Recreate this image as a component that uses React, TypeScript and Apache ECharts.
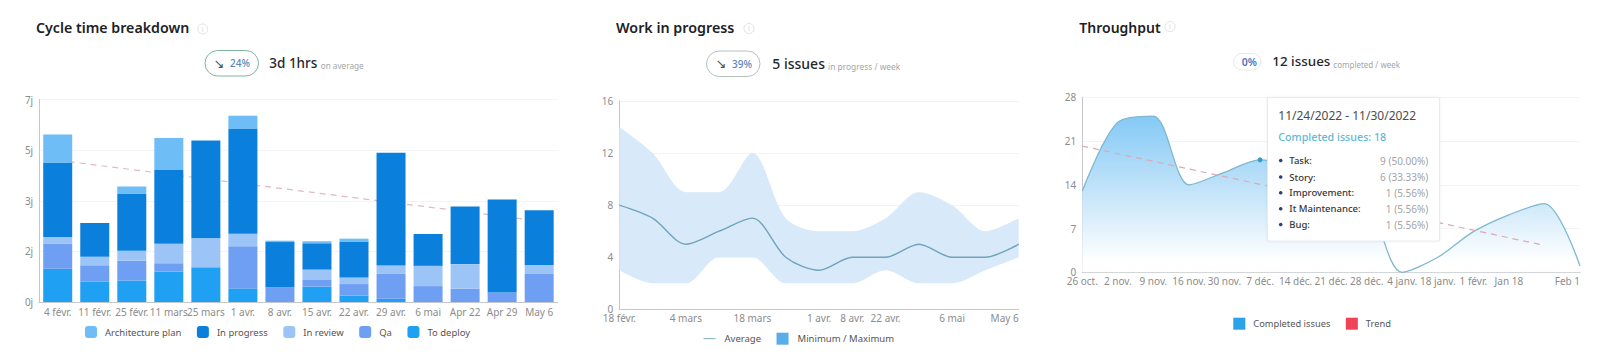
import React, { useEffect, useRef } from "react";
import * as echarts from "echarts";

const FONT = '"Noto Sans", sans-serif';

const cycleCategories = ["4 févr.", "11 févr.", "25 févr.", "11 mars", "25 mars", "1 avr.", "8 avr.", "15 avr.", "22 avr.", "29 avr.", "6 mai", "Apr 22", "Apr 29", "May 6"];
const cycleTicks = ["0j", "2j", "3j", "5j", "7j"];
const toDeploy = [1.15, 0.7, 0.74, 1.05, 1.2, 0.47, 0, 0.53, 0.22, 0.11, 0, 0, 0, 0];
const qa = [0.87, 0.57, 0.69, 0.29, 0, 1.46, 0.51, 0.23, 0.4, 0.86, 0.55, 0.46, 0.33, 0.97];
const inReview = [0.23, 0.29, 0.34, 0.67, 1, 0.43, 0, 0.36, 0.23, 0.29, 0.7, 0.85, 0, 0.31];
const inProgress = [2.57, 1.17, 1.98, 2.55, 3.38, 3.62, 1.56, 0.91, 1.24, 3.9, 1.1, 1.99, 3.21, 1.89];
const architecturePlan = [0.97, 0, 0.24, 1.11, 0, 0.46, 0.05, 0.07, 0.1, 0, 0, 0, 0, 0];
const cycleTrend = [4.9, null, null, null, null, null, null, null, null, null, null, null, null, 2.8];

const wipCategories = ["18 févr.", "", "4 mars", "", "18 mars", "", "1 avr.", "8 avr.", "22 avr.", "", "6 mai", "", "May 6"];
const wipTicks = [0, 4, 8, 12, 16];
const wipMin = [3, 2, 2, 4, 4, 2, 2, 2, 3, 2, 2, 3, 4];
const wipMax = [14, 12, 9, 9, 12, 7, 6, 6, 7, 9, 8, 6, 7];
const wipAverage = [8, 7, 5, 6, 7, 4, 3, 4, 4, 5, 4, 4, 5];

const throughputCategories = ["26 oct.", "2 nov.", "9 nov.", "16 nov.", "30 nov.", "7 déc.", "14 déc.", "21 déc.", "28 déc.", "4 janv.", "18 janv.", "1 févr.", "Jan 18", "", "Feb 1"];
const completedIssues = [13, 24, 25, 14, 16, 18, 17, 16, 12, 0, 2.4, 6.5, 9.2, 11, 1];
const throughputTrend = [20.2, null, null, null, null, null, null, null, null, null, null, null, null, 4.3, null];
const hoveredIndex = 5;

const tooltipRows = [
  ["Task:", "9 (50.00%)"],
  ["Story:", "6 (33.33%)"],
  ["Improvement:", "1 (5.56%)"],
  ["It Maintenance:", "1 (5.56%)"],
  ["Bug:", "1 (5.56%)"],
];

const AXIS = "#c4c8cc";
const SPLIT = "#f3f4f5";
const LABEL = "#8c8c8c";

const txt = (text: string, x: number, y: number, size: number, fill: string, weight = 400, align = "left") => ({
  type: "text",
  x,
  y,
  z: 100,
  style: { text, fill, font: `${weight} ${size}px ${FONT}`, textAlign: align, textVerticalAlign: "middle" },
});

const pill = (x: number, y: number, w: number, h: number, stroke: string) => ({
  type: "rect",
  z: 100,
  shape: { x, y, width: w, height: h, r: h / 2 },
  style: { fill: "#fff", stroke, lineWidth: 1 },
});

const info = (x: number, y: number) => [
  { type: "circle", z: 100, shape: { cx: x, cy: y, r: 5 }, style: { fill: "#fff", stroke: "#e2e4e6", lineWidth: 1 } },
  txt("i", x, y, 7, "#d5d7d9", 400, "center"),
];

const arrow = (x: number, y: number) => ({
  type: "text",
  x,
  y,
  z: 100,
  style: { text: "↘", fill: "#4b5560", font: '13px "DejaVu Sans"', textAlign: "center", textVerticalAlign: "middle" },
});

const xAxisBase = {
  type: "category",
  axisTick: { show: false },
  axisLine: { lineStyle: { color: AXIS } },
  axisLabel: { color: LABEL, fontFamily: FONT, fontSize: 10, margin: 5, interval: 0, hideOverlap: false },
};
const yAxisBase = {
  type: "value",
  min: 0,
  axisLine: { show: true, lineStyle: { color: AXIS } },
  axisTick: { show: false },
  splitLine: { lineStyle: { color: SPLIT } },
  axisLabel: { color: LABEL, fontFamily: FONT, fontSize: 10, margin: 6 },
};

const legendBase = {
  orient: "horizontal",
  selectedMode: false,
  itemWidth: 12,
  itemHeight: 12,
  itemGap: 15.5,
  padding: 0,
  textStyle: { color: "#555", fontFamily: FONT, fontSize: 9.5, padding: [0, 0, 0, 3] },
};

const cycleSeries = [
  ["To deploy", toDeploy, "#1fa0f3"],
  ["Qa", qa, "#6f9ff2"],
  ["In review", inReview, "#9dc4f7"],
  ["In progress", inProgress, "#0a7fdc"],
  ["Architecture plan", architecturePlan, "#6fbdf6"],
].map(([name, data, color]) => ({
  name,
  type: "bar",
  stack: "cycle",
  barWidth: 29,
  xAxisIndex: 0,
  yAxisIndex: 0,
  z: 3,
  data,
  itemStyle: { color },
}));

export default function App() {
  const ref = useRef<HTMLDivElement>(null);
  useEffect(() => {
    const chart = echarts.init(ref.current!, undefined, { renderer: "svg" });
    const option: any = {
      animation: false,
      backgroundColor: "#fff",
      textStyle: { fontFamily: FONT },
      grid: [
        { left: 39.2, top: 99.5, width: 518.5, height: 202.5 },
        { left: 619.3, top: 101, width: 399.4, height: 208.3 },
        { left: 1082.3, top: 97.3, width: 497.7, height: 175 },
      ],
      xAxis: [
        { ...xAxisBase, gridIndex: 0, data: cycleCategories },
        {
          ...xAxisBase,
          gridIndex: 1,
          boundaryGap: false,
          data: wipCategories,
          axisLabel: { ...xAxisBase.axisLabel, margin: 4, alignMaxLabel: "right" },
        },
        {
          ...xAxisBase,
          gridIndex: 2,
          boundaryGap: false,
          data: throughputCategories,
          axisLabel: { ...xAxisBase.axisLabel, margin: 4, alignMaxLabel: "right" },
        },
      ],
      yAxis: [
        {
          ...yAxisBase,
          gridIndex: 0,
          max: 7,
          interval: 1.75,
          axisLabel: { ...yAxisBase.axisLabel, formatter: (v: number) => cycleTicks[Math.round(v / 1.75)] },
        },
        { ...yAxisBase, gridIndex: 1, max: wipTicks[4], interval: wipTicks[1] },
        { ...yAxisBase, gridIndex: 2, max: 28, interval: 7 },
      ],
      legend: [
        {
          ...legendBase,
          left: 85,
          top: 326,
          data: ["Architecture plan", "In progress", "In review", "Qa", "To deploy"],
        },
        {
          ...legendBase,
          left: 703.5,
          top: 332.7,
          textStyle: { ...legendBase.textStyle, padding: [0, 0, 0, 4] },
          data: [
            { name: "Average", icon: "path://M0 5H13V6H0Z", itemStyle: { color: "#6fa4bb" } },
            { name: "Minimum / Maximum", icon: "rect", itemStyle: { color: "#5aaee8" } },
          ],
        },
        {
          ...legendBase,
          left: 1233.3,
          top: 317.7,
          textStyle: { ...legendBase.textStyle, fontSize: 9.3 },
          data: [
            { name: "Completed issues", icon: "rect", itemStyle: { color: "#2aa3e8" } },
            { name: "Trend", icon: "rect", itemStyle: { color: "#ef4456" } },
          ],
        },
      ],
      series: [
        ...cycleSeries,
        {
          name: "Cycle trend",
          type: "line",
          xAxisIndex: 0,
          yAxisIndex: 0,
          z: 1,
          symbol: "none",
          connectNulls: true,
          data: cycleTrend,
          lineStyle: { color: "#e3b9bd", width: 1.2, type: [6, 5] },
        },
        {
          name: "Minimum",
          type: "line",
          stack: "band",
          smooth: 0.3,
          xAxisIndex: 1,
          yAxisIndex: 1,
          symbol: "none",
          data: wipMin,
          lineStyle: { width: 0 },
        },
        {
          name: "Minimum / Maximum",
          type: "line",
          stack: "band",
          smooth: 0.3,
          xAxisIndex: 1,
          yAxisIndex: 1,
          symbol: "none",
          data: wipMax.map((v, i) => v - wipMin[i]),
          lineStyle: { width: 0 },
          itemStyle: { color: "#5aaee8" },
          areaStyle: { color: "#d8e9f9", opacity: 1 },
        },
        {
          name: "Average",
          type: "line",
          smooth: 0.3,
          xAxisIndex: 1,
          yAxisIndex: 1,
          symbol: "none",
          z: 5,
          data: wipAverage,
          itemStyle: { color: "#6fa4bb" },
          lineStyle: { color: "#6fa4bb", width: 1.4 },
        },
        {
          name: "Completed issues",
          type: "line",
          smooth: 0.3,
          xAxisIndex: 2,
          yAxisIndex: 2,
          symbol: "none",
          showSymbol: true,
          data: completedIssues.map((value, i) =>
            i === hoveredIndex
              ? { value, symbol: "circle", symbolSize: 5, itemStyle: { color: "#2f9fd0" } }
              : value
          ),
          itemStyle: { color: "#2aa3e8" },
          lineStyle: { color: "#7fb8cf", width: 1.3 },
          areaStyle: {
            opacity: 1,
            color: new echarts.graphic.LinearGradient(0, 0, 0, 1, [
              { offset: 0, color: "#84c9f6" },
              { offset: 0.45, color: "#bfe2f9" },
              { offset: 0.72, color: "#e3f2fc" },
              { offset: 0.93, color: "#ffffff" },
            ]),
          },
        },
        {
          name: "Trend",
          type: "line",
          xAxisIndex: 2,
          yAxisIndex: 2,
          z: 4,
          symbol: "none",
          connectNulls: true,
          data: throughputTrend,
          itemStyle: { color: "#ef4456" },
          lineStyle: { color: "#dfa9b2", width: 1.2, type: [6, 5] },
        },
      ],
      graphic: [
        txt("Cycle time breakdown", 36, 27, 14.2, "#1d2126", 600),
        ...info(202.7, 29),
        pill(205, 50.5, 53.5, 25.5, "#7fb69b"),
        arrow(219, 63),
        txt("24%", 240, 63, 10, "#5b86b8", 500, "center"),
        txt("3d 1hrs", 269.3, 63, 13.5, "#24282c", 500),
        txt("on average", 320.7, 65.5, 8.2, "#a3a6a9"),

        txt("Work in progress", 616, 27, 14.3, "#1d2126", 600),
        ...info(749, 28.5),
        pill(706.5, 51, 53.5, 25.5, "#b4c2bd"),
        arrow(721, 63.5),
        txt("39%", 742, 63.5, 10, "#5b86b8", 500, "center"),
        txt("5 issues", 772.3, 63.5, 14, "#24282c", 500),
        txt("in progress / week", 828, 66.5, 8.4, "#a3a6a9"),

        txt("Throughput", 1079.3, 27, 14, "#1d2126", 600),
        ...info(1170, 26.5),
        pill(1233.5, 53.5, 27.5, 16.5, "#e4e8ee"),
        txt("0%", 1249.3, 61.5, 10.5, "#4f72bf", 600, "center"),
        txt("12 issues", 1272.3, 61, 13.4, "#24282c", 500),
        txt("completed / week", 1333.3, 64.5, 8, "#a3a6a9"),

        {
          type: "rect",
          z: 99,
          shape: { x: 1267.5, y: 97.5, width: 172, height: 143.5 },
          style: { fill: "#fff", stroke: "#e8eaec", lineWidth: 1, shadowBlur: 3, shadowColor: "rgba(0,0,0,0.06)" },
        },
        txt("11/24/2022 - 11/30/2022", 1278.3, 115, 12, "#4a4d50"),
        txt("Completed issues: 18", 1278.3, 136.5, 10.7, "#62b9d2", 500),
        ...tooltipRows.flatMap(([label, value], i) => {
          const y = [160.5, 177, 192.7, 208.7, 224.5][i];
          return [
            { type: "circle", z: 100, shape: { cx: 1280.7, cy: y, r: 1.8 }, style: { fill: "#2c3f7d" } },
            txt(label, 1289.3, y, 9.5, "#33363a", 500),
            txt(value, 1428.3, y, 10, "#a2a4a6", 400, "right"),
          ];
        }),
      ],
    };
    chart.setOption(option);
    return () => chart.dispose();
  }, []);
  return <div ref={ref} style={{ position: "fixed", left: 0, top: 0, width: 1600, height: 354 }} />;
}
